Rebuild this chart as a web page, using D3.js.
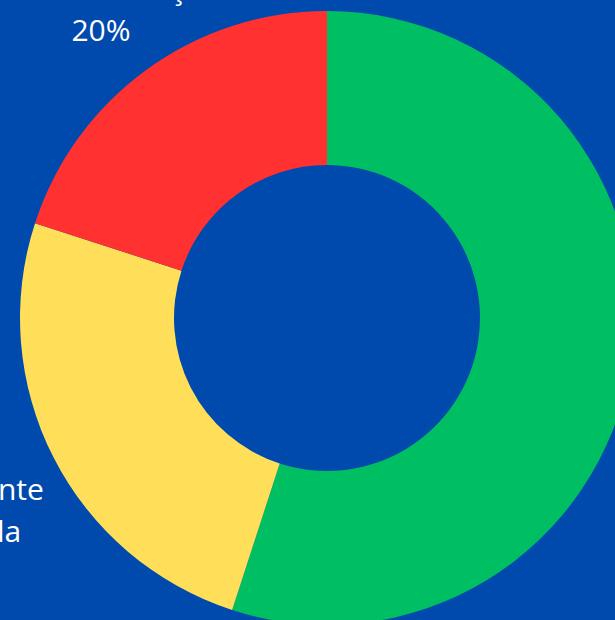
<!DOCTYPE html>
<html>
<head>
  <script src="https://cdn.jsdelivr.net/npm/d3@7/dist/d3.min.js"></script>
  <style>
    body { margin: 0; background: #004AAD; overflow: hidden; }
  </style>
</head>
<body>
  <svg width="615" height="620" id="chart"></svg>
  <script>
    // data
    const categories = ['Resolvido', 'Parcialmente solucionada', 'Precisa de atenção'];
    const values = [55, 25, 20];
    const colors = ['#00BF63', '#FFDE59', '#FF3131'];

    const svg = d3.select('#chart');
    const cx = 327, cy = 318;
    const outerR = 307, innerR = 153;

    svg.append('rect').attr('width', 615).attr('height', 620).attr('fill', '#004AAD');

    const pie = d3.pie().sort(null).value(d => d.value);
    const arc = d3.arc().innerRadius(innerR).outerRadius(outerR);

    const data = categories.map((c, i) => ({ name: c, value: values[i], color: colors[i] }));

    const g = svg.append('g').attr('transform', `translate(${cx}, ${cy})`);
    g.selectAll('path')
      .data(pie(data))
      .join('path')
      .attr('d', arc)
      .attr('fill', d => d.data.color);

    // labels (white text, Open Sans)
    const labels = svg.append('g')
      .attr('font-family', '"Open Sans", sans-serif')
      .attr('font-size', 30)
      .attr('fill', '#ffffff')
      .attr('text-anchor', 'middle');

    // red slice label: name above, percentage below
    const total = d3.sum(values);
    const redLabel = labels.append('text').attr('x', 101).attr('y', -1);
    redLabel.append('tspan').attr('x', 88).text(categories[2]);
    redLabel.append('tspan').attr('x', 101).attr('dy', 42)
      .text(Math.round(values[2] / total * 100) + '%');

    // yellow slice label (mostly off canvas)
    const yelLabel = labels.append('text').attr('x', -48).attr('y', 500);
    yelLabel.append('tspan').attr('x', -48).text('Parcialmente');
    yelLabel.append('tspan').attr('x', -63).attr('dy', 42).text('solucionada');
  </script>
</body>
</html>
